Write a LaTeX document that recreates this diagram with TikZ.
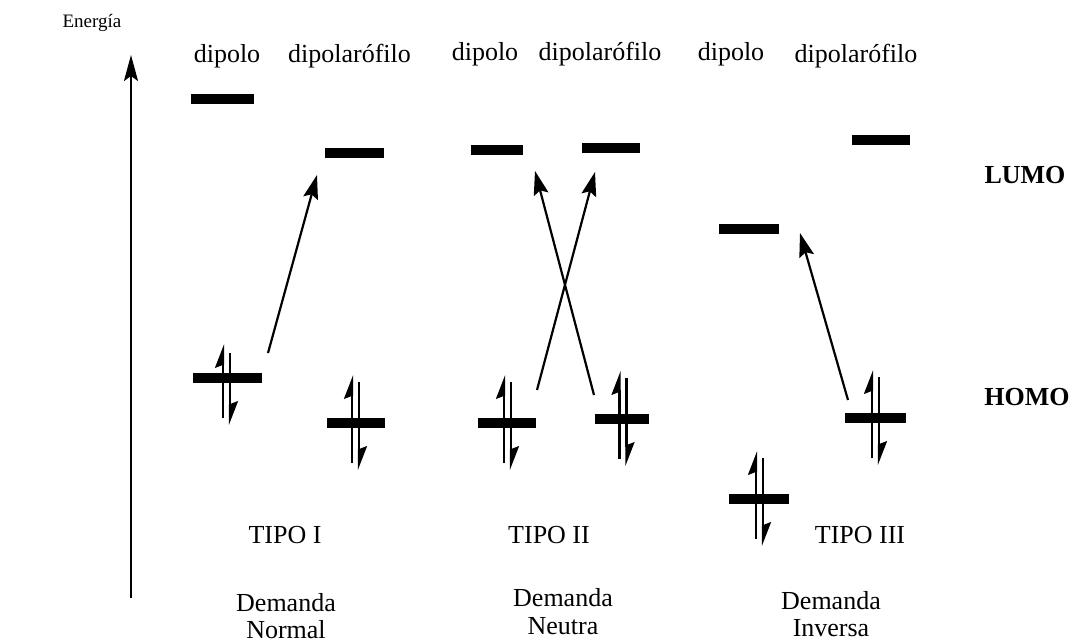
\documentclass[tikz,border=0pt]{standalone}
\usepackage{fontspec}
\setmainfont{Liberation Serif}
\usetikzlibrary{arrows.meta}
\tikzset{
  lvl/.style={fill=black, draw=none, inner sep=0pt, minimum height=10pt, minimum width=#1},
  lbl/.style={anchor=base, inner sep=0pt, font=\fontsize{26}{30}\selectfont},
  side/.style={anchor=base, inner sep=0pt, font=\fontsize{26}{30}\selectfont\bfseries},
  trans/.style={line width=2.2pt, -{Stealth[length=24pt, width=15pt, inset=4pt]}},
  ehalf/.style={line width=2.2pt, -{Stealth[left, length=21pt, width=16pt, inset=3pt]}},
  epair/.pic={
    \draw[ehalf] (-3.5,40) -- (-3.5,-48);
    \draw[ehalf] (3.5,-41) -- (3.5,47);
  },
  epairshort/.pic={
    \draw[ehalf] (-3.5,40) -- (-3.5,-34);
    \draw[ehalf] (3.5,-25) -- (3.5,47);
  }
}
\begin{document}
\begin{tikzpicture}[x=1pt,y=-1pt]
\useasboundingbox (0,0) rectangle (1074,642);
% axis
\node[anchor=base, inner sep=0pt, font=\fontsize{19}{22}\selectfont] (energia) at (92,28) {Energía};
\coordinate (axb) at (131,598);
\coordinate (axt) at (131,55);
\draw[line width=2.2pt, -{Stealth[length=26pt, width=14pt, inset=5pt]}] (axb) -- (axt);
% column labels
\node[lbl] (d1) at (227,63) {dipolo};
\node[lbl] (p1) at (349.5,63) {dipolarófilo};
\node[lbl] (d2) at (485,61) {dipolo};
\node[lbl] (p2) at (600,61) {dipolarófilo};
\node[lbl] (d3) at (731,61) {dipolo};
\node[lbl] (p3) at (856,63) {dipolarófilo};
\node[side] (lumo) at (1025,183) {LUMO};
\node[side] (homo) at (1027,405) {HOMO};
% levels type I
\node[lvl=63pt] (L1d) at (222.5,99) {};
\node[lvl=59pt] (L1p) at (354.5,153) {};
\node[lvl=69pt] (H1d) at (227.5,378) {};
\node[lvl=58pt] (H1p) at (356,423) {};
% levels type II
\node[lvl=52pt] (L2d) at (497,150) {};
\node[lvl=58pt] (L2p) at (611,148) {};
\node[lvl=58pt] (H2d) at (507,423) {};
\node[lvl=54pt] (H2p) at (622,419) {};
% levels type III
\node[lvl=60pt] (L3d) at (749,229) {};
\node[lvl=58pt] (L3p) at (881,140) {};
\node[lvl=60pt] (H3d) at (759,499) {};
\node[lvl=61pt] (H3p) at (875.5,418) {};
% electron pairs
\pic at (226.5,378) {epairshort};
\pic at (355.5,423) {epair};
\pic at (507.5,423) {epair};
\pic at (623,419) {epair};
\pic at (759.5,499) {epair};
\pic at (875.5,418) {epair};
% transitions
\coordinate (s1) at (268,353);
\coordinate (e1) at (317,175);
\draw[trans] (s1) -- (e1);
\coordinate (s2a) at (537,390);
\coordinate (e2a) at (595,172);
\draw[trans] (s2a) -- (e2a);
\coordinate (s2b) at (594,395);
\coordinate (e2b) at (535,171);
\draw[trans] (s2b) -- (e2b);
\coordinate (s3) at (848,400);
\coordinate (e3) at (800,233);
\draw[trans] (s3) -- (e3);
% bottom labels
\node[lbl] (t1) at (285,543) {TIPO I};
\node[lbl] (t2) at (549,543) {TIPO II};
\node[lbl] (t3) at (860,543) {TIPO III};
\node[lbl] (dm1) at (286,611) {Demanda};
\node[lbl] (n1) at (286,638) {Normal};
\node[lbl] (dm2) at (563,606) {Demanda};
\node[lbl] (n2) at (563,634) {Neutra};
\node[lbl] (dm3) at (831,609) {Demanda};
\node[lbl] (n3) at (831,636) {Inversa};
\end{tikzpicture}
\end{document}
